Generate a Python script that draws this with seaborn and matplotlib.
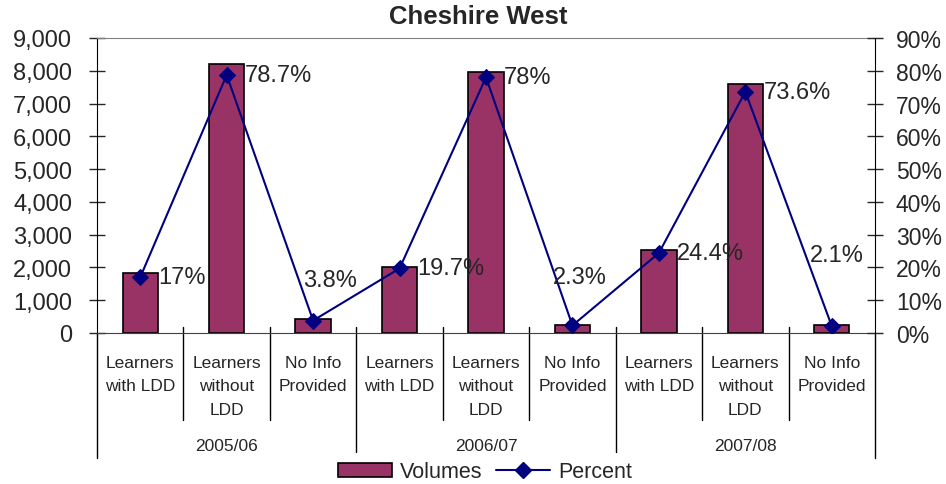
import numpy as np
import pandas as pd
import seaborn as sns
import matplotlib.pyplot as plt
from matplotlib.lines import Line2D
from matplotlib.patches import Patch
import matplotlib.transforms as mtransforms

years = ['2005/06', '2006/07', '2007/08']
groups = ['Learners\nwith LDD', 'Learners\nwithout\nLDD', 'No Info\nProvided']
volumes = [1820, 8220, 420, 2000, 7970, 240, 2540, 7600, 230]
percent = [17, 78.7, 3.8, 19.7, 78, 2.3, 24.4, 73.6, 2.1]
pct_labels = ['17%', '78.7%', '3.8%', '19.7%', '78%', '2.3%', '24.4%', '73.6%', '2.1%']

# label offsets in points (x, y) from each marker
label_offsets = [(13, 0), (13, 0), (-7, 29), (13, 0), (13, 0), (-14, 35), (13, 0), (13, 0), (-16, 51)]

sns.set_style('white')
plt.rcParams['font.family'] = ['Liberation Sans', 'DejaVu Sans']

BAR = '#993366'
LINE = '#000080'

df = pd.DataFrame({
    'key': [f'{y}|{g}' for y in years for g in groups],
    'volume': volumes,
})

fig = plt.figure(figsize=(9.46, 4.85), dpi=100)
ax = fig.add_axes([97 / 946, 1 - 334 / 485, (875 - 97) / 946, (334 - 39) / 485])
sns.barplot(data=df, x='key', y='volume', order=list(df['key']), color=BAR,
            saturation=1, width=0.41, edgecolor='black', linewidth=1.2, ax=ax)
ax.set_ylim(0, 9000)
ax.set_yticks(np.arange(0, 9001, 1000))
ax.set_yticklabels([f'{v:,}' for v in range(0, 9001, 1000)])
ax.set_xlim(-0.5, 8.5)
ax.set_xticks([])
ax.set_xlabel('')
ax.set_ylabel('')
ax.tick_params(axis='y', direction='inout', length=12, width=1, labelsize=17, pad=12)

ax.spines['top'].set_color('#808080')
ax.spines['bottom'].set_color('#404040')
ax.spines['left'].set_color('black')
ax.spines['right'].set_visible(False)

ax2 = ax.twinx()
x = np.arange(len(percent))
sns.lineplot(x=x, y=percent, ax=ax2, color=LINE, marker='D', markersize=8,
             markeredgecolor=LINE, linewidth=1.5)
ax2.set_ylim(0, 90)
ax2.set_yticks(np.arange(0, 91, 10))
ax2.set_yticklabels([f'{v}%' for v in range(0, 91, 10)])
ax2.tick_params(axis='y', direction='inout', length=12, width=1, labelsize=16.5, pad=9)
ax2.spines['right'].set_color('black')
ax2.spines['top'].set_visible(False)
ax2.spines['left'].set_visible(False)
ax2.spines['bottom'].set_visible(False)
ax2.set_ylabel('')

for xi, p, lab, off in zip(x, percent, pct_labels, label_offsets):
    ax2.annotate(lab, (xi, p), xytext=off, textcoords='offset points',
                 ha='left', va='center', fontsize=17)

# category labels and separators below the axis
trans = mtransforms.blended_transform_factory(ax.transData, ax.transAxes)
for i, g in enumerate(groups * len(years)):
    ax.text(i, -0.075, g, transform=trans, ha='center', va='top',
            fontsize=12.5, linespacing=1.69)
for j, y in enumerate(years):
    ax.text(3 * j + 1, -0.38, y, transform=trans, ha='center', va='center', fontsize=12.5)

for b in np.arange(-0.5, 9, 1):
    if b in (-0.5, 8.5):
        y0, y1 = 0, -0.424
    elif (b + 0.5) % 3 == 0:
        y0, y1 = 0.02, -0.403
    else:
        y0, y1 = 0.02, -0.294
    ax.add_line(Line2D([b, b], [y0, y1], transform=trans, color='black',
                       linewidth=1, clip_on=False))

fig.text(478 / 946, 1 - 17 / 485, 'Cheshire West', ha='center', va='center',
         fontsize=18.5, fontweight='bold')

handles = [Patch(facecolor=BAR, edgecolor='black', linewidth=1.2, label='Volumes'),
           Line2D([0], [0], color=LINE, marker='D', markersize=8, linewidth=1.5, label='Percent')]
fig.legend(handles=handles, loc='center', bbox_to_anchor=(0.5 + 12 / 946, 1 - 473 / 485), ncol=2,
           frameon=False, fontsize=15.5, handlelength=2.5, handleheight=0.6,
           columnspacing=0.6, handletextpad=0.4, borderpad=0)

fig.savefig('out.png', dpi=100)
